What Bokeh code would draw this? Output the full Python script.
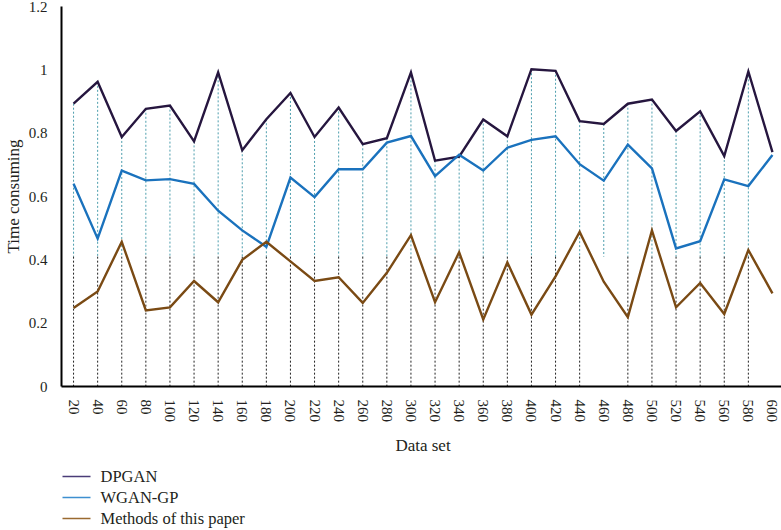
from bokeh.plotting import figure
from bokeh.models import FactorRange
from bokeh.layouts import column
from bokeh.core.properties import value
from bokeh.embed import file_html
from bokeh.resources import INLINE

data_sets = ["20", "40", "60", "80", "100", "120", "140", "160", "180", "200",
             "220", "240", "260", "280", "300", "320", "340", "360", "380", "400",
             "420", "440", "460", "480", "500", "520", "540", "560", "580", "600"]

dpgan = [0.893, 0.962, 0.788, 0.877, 0.887, 0.774, 0.992, 0.746, 0.844, 0.927,
         0.788, 0.881, 0.765, 0.784, 0.992, 0.713, 0.726, 0.843, 0.790, 1.002,
         0.997, 0.838, 0.829, 0.893, 0.906, 0.807, 0.869, 0.728, 0.995, 0.740]

wgan_gp = [0.640, 0.467, 0.682, 0.651, 0.655, 0.640, 0.555, 0.493, 0.441, 0.660,
           0.598, 0.686, 0.686, 0.770, 0.791, 0.664, 0.732, 0.682, 0.754, 0.779,
           0.790, 0.702, 0.650, 0.764, 0.689, 0.436, 0.459, 0.654, 0.633, 0.731]

methods = [0.248, 0.300, 0.457, 0.240, 0.250, 0.333, 0.266, 0.400, 0.457, 0.395,
           0.333, 0.345, 0.264, 0.359, 0.478, 0.266, 0.424, 0.212, 0.392, 0.227,
           0.348, 0.488, 0.331, 0.219, 0.493, 0.250, 0.327, 0.229, 0.431, 0.294]

series_names = ["DPGAN", "WGAN-GP", "Methods of this paper"]
y_ticks = [0, 0.2, 0.4, 0.6, 0.8, 1.0, 1.2]

SERIF = "Liberation Serif"
TXT = "#231f20"
split = 0.41

p = figure(frame_width=723, frame_height=380,
           x_range=FactorRange(factors=data_sets, range_padding=0),
           y_range=(0, 1.2), output_backend="svg", toolbar_location=None,
           min_border_left=49, min_border_right=0, min_border_top=6, min_border_bottom=0)
p.outline_line_color = None
p.xgrid.grid_line_color = None
p.ygrid.grid_line_color = None

# drop lines (decorative)
drop_x = data_sets[:-1]
drop_top = dpgan[:-1]
p.segment(x0=drop_x, y0=drop_top, x1=drop_x, y1=[split] * len(drop_x),
          line_color="#3a94a4", line_width=1, line_dash="2 2", line_alpha=0.9)
low_x = [x for x in drop_x if x != "460"]
p.segment(x0=low_x, y0=[split] * len(low_x), x1=low_x, y1=[0] * len(low_x),
          line_color="#222222", line_width=1, line_dash="2 2")

colors = ["#26163f", "#1a72bd", "#7a4a14"]
legend_colors = ["#4a3c78", "#3d8fd0", "#9a6a30"]
for vals, col in zip([dpgan, wgan_gp, methods], colors):
    p.line(x=data_sets, y=vals, line_color=col, line_width=2.4, line_join="miter")

p.yaxis.ticker = y_ticks
p.yaxis.major_label_overrides = {0: "0", 0.2: "0.2", 0.4: "0.4", 0.6: "0.6", 0.8: "0.8", 1.0: "1", 1.2: "1.2"}
p.yaxis.axis_label = "Time consuming"
p.xaxis.axis_label = "Data set"
p.xaxis.major_label_orientation = "vertical"

for ax in (p.xaxis[0], p.yaxis[0]):
    ax.axis_line_color = "#000000"
    ax.axis_line_width = 2
    ax.major_tick_line_color = None
    ax.minor_tick_line_color = None
    ax.major_label_text_font = SERIF
    ax.major_label_text_font_size = "15px"
    ax.major_label_text_color = TXT
    ax.axis_label_text_font = SERIF
    ax.axis_label_text_font_size = "17px"
    ax.axis_label_text_font_style = "normal"
    ax.axis_label_text_color = TXT

p.xaxis.major_label_standoff = 7
p.xaxis.axis_label_standoff = 11
p.yaxis.major_label_standoff = 8
p.yaxis.axis_label_standoff = 3

# legend strip below the chart (pixel-scaled coordinate space, y downwards)
LG_W, LG_H = 723, 70
lg = figure(frame_width=LG_W, frame_height=LG_H, output_backend="svg", toolbar_location=None,
            min_border_left=49, min_border_right=0, min_border_top=0, min_border_bottom=0,
            x_range=(0, LG_W), y_range=(LG_H, 0))
lg.axis.visible = False
lg.grid.visible = False
lg.outline_line_color = None
rows = [18, 39, 60]
lg.segment(x0=[1] * 3, y0=rows, x1=[29] * 3, y1=rows, line_color=legend_colors, line_width=1.6)
lg.text(x=[39] * 3, y=rows, text=series_names, text_font=value(SERIF), text_font_size="16.5px",
        text_color=TXT, text_baseline="middle", text_align="left")

open("out.html", "w").write(file_html(column(p, lg, spacing=0), INLINE))
